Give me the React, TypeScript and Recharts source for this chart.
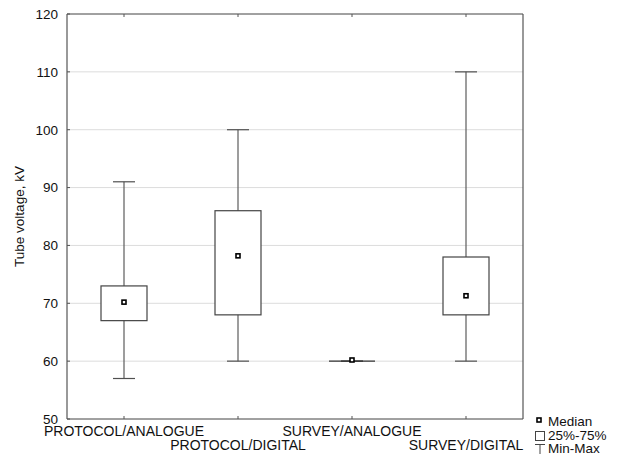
import React from 'react';
import { ComposedChart, Bar, Line, XAxis, YAxis, CartesianGrid } from 'recharts';

const categories = ['PROTOCOL/ANALOGUE', 'PROTOCOL/DIGITAL', 'SURVEY/ANALOGUE', 'SURVEY/DIGITAL'];
const minValues = [57, 60, 60, 60];
const q1Values = [67, 68, 60, 68];
const medianValues = [70.2, 78.2, 60.2, 71.3];
const q3Values = [73, 86, 60, 78];
const maxValues = [91, 100, 60, 110];
const yTicks = [50, 60, 70, 80, 90, 100, 110, 120];

const FONT = "'Liberation Sans', Arial, sans-serif";
const AXIS = '#555';

const data = categories.map((name, i) => ({
    name,
    whisker: [minValues[i], maxValues[i]],
    box: [q1Values[i], q3Values[i]],
    median: medianValues[i],
}));

const WhiskerShape = (props: any) => {
    const { x, y, width, height } = props;
    const cx = x + width / 2;
    return (
        <g>
            <line x1={cx} x2={cx} y1={y} y2={y + height} stroke="#5c5c5c" strokeWidth={1.2} />
            <line x1={x} x2={x + width} y1={y} y2={y} stroke="#505050" strokeWidth={1.2} />
            <line x1={x} x2={x + width} y1={y + height} y2={y + height} stroke="#505050" strokeWidth={1.2} />
        </g>
    );
};

const BoxShape = (props: any) => {
    const { x, y, width, height } = props;
    if (!height) {
        return <line x1={x} x2={x + width} y1={y} y2={y} stroke="#333" strokeWidth={1.2} />;
    }
    return <rect x={x} y={y} width={width} height={height} fill="#fff" stroke="#444" strokeWidth={1.2} />;
};

const MedianDot = (props: any) => {
    const { cx, cy } = props;
    if (cx == null || cy == null) return null;
    return <rect x={cx - 2} y={cy - 2} width={4} height={4} fill="#fff" stroke="#000" strokeWidth={1.6} />;
};

// category labels alternate between two rows so they don't collide
const CategoryTick = (props: any) => {
    const { x, y, payload, index } = props;
    const row = index % 2;
    return (
        <g>
            <line x1={x} x2={x} y1={y} y2={y - 3} stroke={AXIS} />
            <text x={x} y={y + 17 + row * 14} textAnchor="middle" fontFamily={FONT} fontSize={14} fill="#111">
                {payload.value}
            </text>
        </g>
    );
};

const TopTick = (props: any) => {
    const { x, y } = props;
    return <line x1={x} x2={x} y1={y} y2={y + 3} stroke={AXIS} />;
};

const LeftTick = (props: any) => {
    const { x, y, payload } = props;
    return (
        <g>
            <line x1={x} x2={x + 3} y1={y} y2={y} stroke={AXIS} />
            <text x={x - 9} y={y + 4.8} textAnchor="end" fontFamily={FONT} fontSize={13.5} fill="#111">
                {payload.value}
            </text>
        </g>
    );
};

const RightTick = (props: any) => {
    const { x, y } = props;
    return <line x1={x} x2={x - 4} y1={y} y2={y} stroke={AXIS} />;
};

const LegendBox = () => (
    <svg width={617} height={455} style={{ position: 'absolute', left: 0, top: 0, pointerEvents: 'none' }}>
        <rect x={537} y={418} width={4} height={4} fill="#fff" stroke="#000" strokeWidth={1.6} />
        <text x={548} y={426} fontFamily={FONT} fontSize={13.5} fill="#111">Median</text>
        <rect x={535.5} y={431.5} width={9} height={9} fill="#fff" stroke="#444" />
        <text x={548} y={440} fontFamily={FONT} fontSize={13.5} fill="#111">25%-75%</text>
        <line x1={535} x2={545} y1={444.5} y2={444.5} stroke="#444" />
        <line x1={540} x2={540} y1={444.5} y2={454} stroke="#444" />
        <text x={548} y={453} fontFamily={FONT} fontSize={13.5} fill="#111">Min-Max</text>
    </svg>
);

export default function App() {
    return (
        <div style={{ position: 'absolute', left: 0, top: 0, width: 617, height: 455, background: '#fff' }}>
            <ComposedChart width={617} height={455} data={data} margin={{ top: 13, right: 93, bottom: 0, left: 17 }}>
                <CartesianGrid xAxisId="main" yAxisId="left" vertical={false} stroke="#dcdcdc" />
                <XAxis xAxisId="w" dataKey="name" height={0} hide />
                <XAxis xAxisId="b" dataKey="name" height={0} hide />
                <XAxis
                    xAxisId="main"
                    dataKey="name"
                    height={36}
                    tickSize={0}
                    tickMargin={0}
                    tickLine={false}
                    tick={<CategoryTick />}
                    axisLine={{ stroke: AXIS, strokeWidth: 1.2 }}
                    interval={0}
                />
                <XAxis
                    xAxisId="top"
                    orientation="top"
                    dataKey="name"
                    height={1}
                    tickSize={0}
                    tickMargin={0}
                    tickLine={false}
                    tick={<TopTick />}
                    axisLine={{ stroke: AXIS, strokeWidth: 1.2 }}
                    interval={0}
                />
                <YAxis
                    yAxisId="left"
                    domain={[50, 120]}
                    ticks={yTicks}
                    width={50}
                    tickSize={0}
                    tickMargin={0}
                    tickLine={false}
                    tick={<LeftTick />}
                    axisLine={{ stroke: AXIS, strokeWidth: 1.2 }}
                    label={{
                        value: 'Tube voltage, kV',
                        angle: -90,
                        position: 'insideLeft',
                        offset: 2,
                        style: { textAnchor: 'middle', fontFamily: FONT, fontSize: 13.5, fill: '#111' },
                    }}
                />
                <YAxis
                    yAxisId="right"
                    orientation="right"
                    domain={[50, 120]}
                    ticks={yTicks}
                    width={1}
                    tickSize={0}
                    tickMargin={0}
                    tickLine={false}
                    tick={<RightTick />}
                    axisLine={{ stroke: AXIS, strokeWidth: 1.2 }}
                />
                <Bar xAxisId="w" yAxisId="left" dataKey="whisker" barSize={22} shape={<WhiskerShape />} isAnimationActive={false} />
                <Bar xAxisId="b" yAxisId="left" dataKey="box" barSize={46} shape={<BoxShape />} isAnimationActive={false} />
                <Line
                    xAxisId="main"
                    yAxisId="left"
                    dataKey="median"
                    stroke="none"
                    dot={<MedianDot />}
                    activeDot={false}
                    isAnimationActive={false}
                />
            </ComposedChart>
            <LegendBox />
        </div>
    );
}
